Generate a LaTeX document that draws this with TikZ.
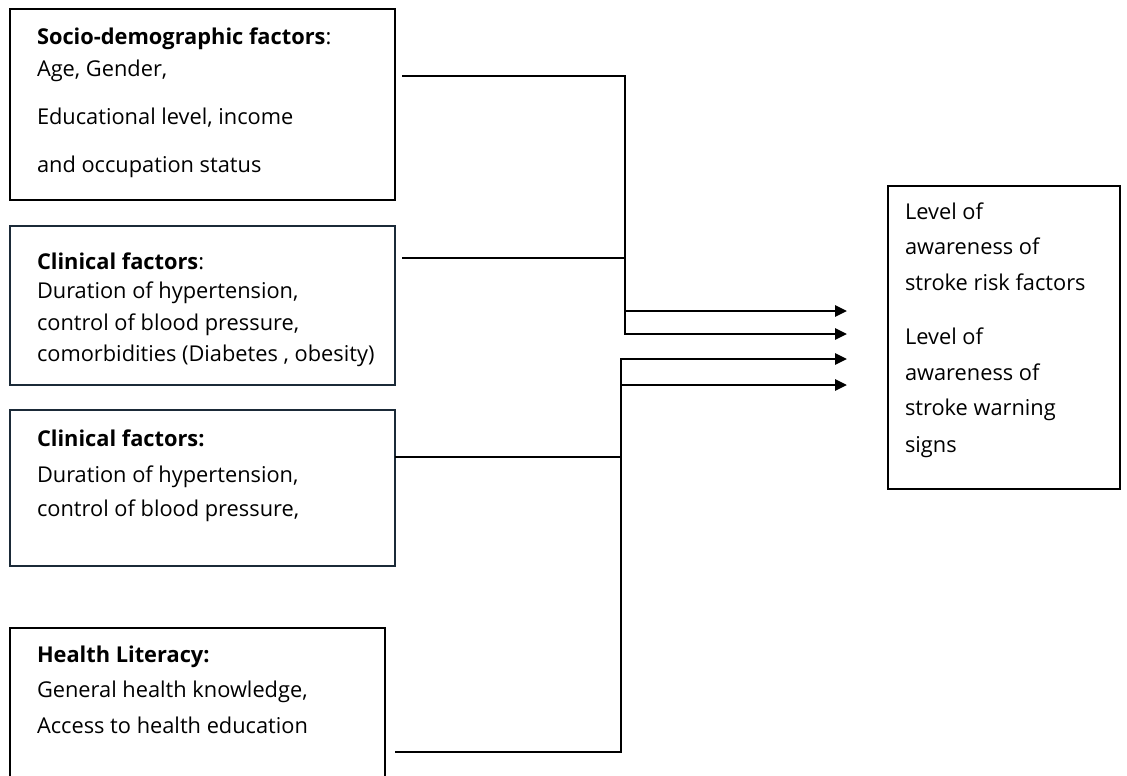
\documentclass[tikz,border=0pt]{standalone}
\usepackage{fontspec}
\setmainfont{Open Sans}
\usetikzlibrary{arrows.meta}
\definecolor{navy}{HTML}{1B2A38}
\begin{document}
\begin{tikzpicture}[x=1pt,y=-1pt,
  font=\fontsize{21.8}{26}\selectfont,
  box/.style={draw=black,line width=1.6pt,anchor=north west,inner sep=0pt,outer sep=0pt},
  navybox/.style={box,draw=navy},
  txt/.style={anchor=base west,inner sep=0pt,outer sep=0pt},
  conn/.style={line width=2.8pt,black},
  arr/.style={conn,-{Triangle[length=12pt,width=11pt]}}]
\useasboundingbox (0,0) rectangle (1127,776);
\clip (0,0) rectangle (1127,776);
% boxes
\node[box,minimum width=385pt,minimum height=191pt] (b1) at (10,9) {};
\node[navybox,minimum width=385pt,minimum height=159pt] (b2) at (10,226) {};
\node[navybox,minimum width=385pt,minimum height=156pt] (b3) at (10,410) {};
\node[box,minimum width=375pt,minimum height=200pt] (b4) at (10,628) {};
\node[box,minimum width=232pt,minimum height=303pt] (out) at (888,186) {};
% texts box 1
\node[txt] (t11) at (37,45) {\textbf{Socio-demographic factors}:};
\node[txt] (t12) at (37,77) {Age, Gender,};
\node[txt] (t13) at (37,124) {Educational level, income};
\node[txt] (t14) at (37,172) {and occupation status};
% box 2
\node[txt] (t21) at (37,269) {\textbf{Clinical factors}:};
\node[txt] (t22) at (37,298) {Duration of hypertension,};
\node[txt] (t23) at (37,330) {control of blood pressure,};
\node[txt] (t24) at (37,361) {comorbidities (Diabetes , obesity)};
% box 3
\node[txt] (t31) at (37,446) {\textbf{Clinical factors:}};
\node[txt] (t32) at (37,482) {Duration of hypertension,};
\node[txt] (t33) at (37,516) {control of blood pressure,};
% box 4
\node[txt] (t41) at (37,662) {\textbf{Health Literacy:}};
\node[txt] (t42) at (37,697) {General health knowledge,};
\node[txt] (t43) at (37,733) {Access to health education};
% outcome box
\node[txt] (o1) at (905,219) {Level of};
\node[txt] (o2) at (905,254) {awareness of};
\node[txt] (o3) at (905,290) {stroke risk factors};
\node[txt] (o4) at (905,344) {Level of};
\node[txt] (o5) at (905,380) {awareness of};
\node[txt] (o6) at (905,415) {stroke warning};
\node[txt] (o7) at (905,452) {signs};
% connector points
\coordinate (s1) at (402,76);
\coordinate (s2) at (402,258);
\coordinate (k2) at (625,258);
\coordinate (j0) at (625,311);
\coordinate (j1) at (625,334);
\coordinate (e1) at (847,311);
\coordinate (e2) at (847,334);
\coordinate (s3) at (395,457);
\coordinate (k3) at (621,457);
\coordinate (s4) at (395,752);
\coordinate (j3) at (621,359);
\coordinate (j4) at (621,385);
\coordinate (e3) at (847,359);
\coordinate (e4) at (847,385);
% connectors
\draw[arr] (s1) -| (j1) -- (e2);
\draw[arr] (j0) -- (e1);
\draw[conn] (s2) -- (k2);
\draw[arr] (s4) -| (j3) -- (e3);
\draw[arr] (j4) -- (e4);
\draw[conn] (s3) -- (k3);
\end{tikzpicture}
\end{document}
